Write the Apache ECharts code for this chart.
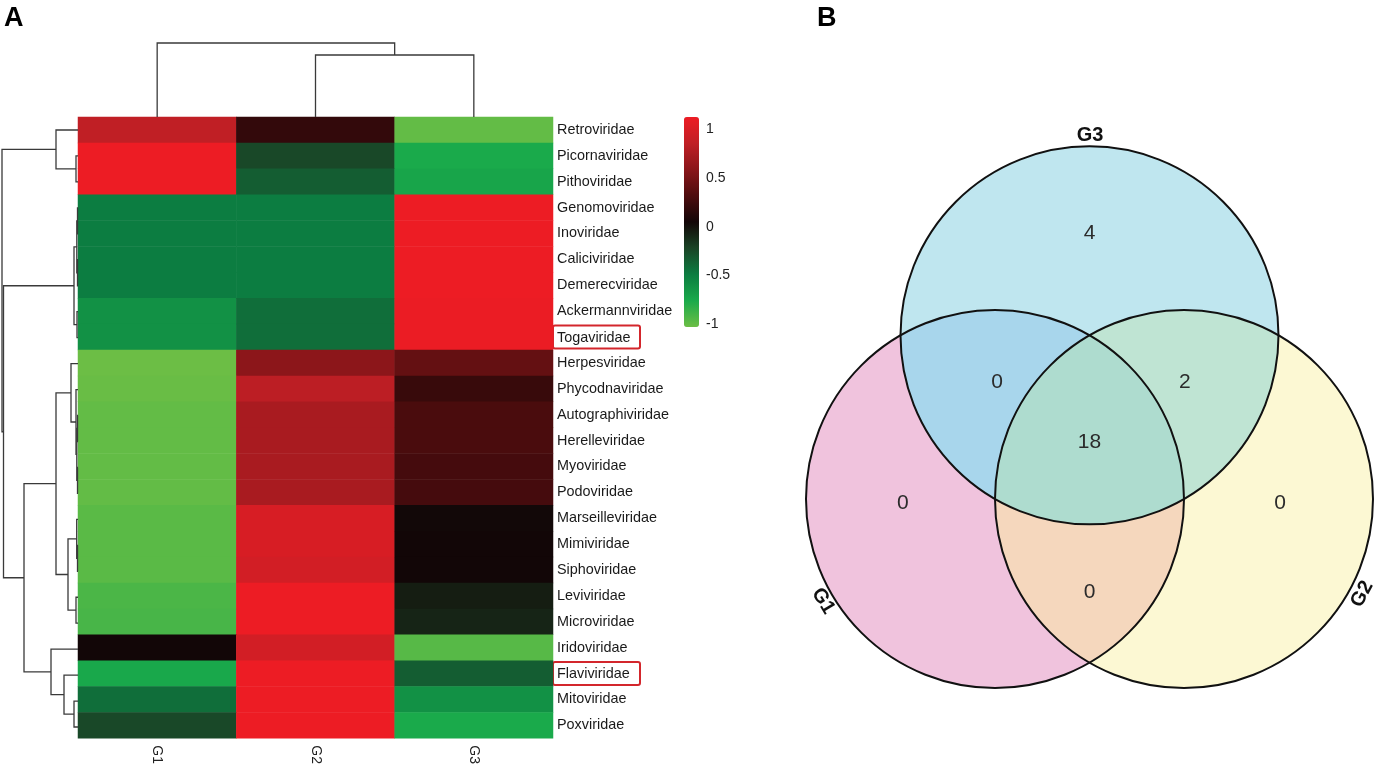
<!DOCTYPE html>
<html><head><meta charset="utf-8">
<script src="https://cdn.jsdelivr.net/npm/echarts@6/dist/echarts.min.js"></script>
<style>html,body{margin:0;padding:0;background:#fff}#c{width:1375px;height:767px}</style>
</head><body><div id="c"></div>
<script>
// ---------------- data ----------------
const families = ['Retroviridae','Picornaviridae','Pithoviridae','Genomoviridae','Inoviridae','Caliciviridae','Demerecviridae','Ackermannviridae','Togaviridae','Herpesviridae','Phycodnaviridae','Autographiviridae','Herelleviridae','Myoviridae','Podoviridae','Marseilleviridae','Mimiviridae','Siphoviridae','Leviviridae','Microviridae','Iridoviridae','Flaviviridae','Mitoviridae','Poxviridae'];
const groups = ['G1','G2','G3'];
const g1Values = [0.86, 1.13, 1.13, -0.49, -0.49, -0.49, -0.49, -0.61, -0.61, -1.03, -1.02, -1.0, -1.0, -1.0, -1.0, -0.97, -0.97, -0.97, -0.92, -0.91, 0.05, -0.75, -0.42, -0.24];
const g2Values = [0.2, -0.24, -0.34, -0.49, -0.49, -0.49, -0.49, -0.42, -0.42, 0.6, 0.84, 0.745, 0.745, 0.745, 0.745, 1.0, 1.0, 0.97, 1.13, 1.13, 0.97, 1.13, 1.13, 1.13];
const g3Values = [-1.0, -0.76, -0.73, 1.13, 1.13, 1.13, 1.13, 1.12, 1.12, 0.42, 0.22, 0.30, 0.30, 0.28, 0.28, 0.04, 0.05, 0.05, -0.05, -0.08, -0.96, -0.34, -0.61, -0.76];
const colorbarTicks = [-1, -0.5, 0, 0.5, 1];
const colorMin = -1.03, colorMax = 1.13;
const boxedFamilies = ['Togaviridae', 'Flaviviridae'];
// hierarchical clustering merges: [left, right, height]; numbers = leaf index, 'mK' = merge K
const rowMerges = [
  [1, 2, 2], [0, 'm0', 22],
  [3, 4, 0.5], [5, 6, 0.5], ['m2', 'm3', 1.2], [7, 8, 1], ['m4', 'm5', 4],
  [11, 12, 0.5], [13, 14, 0.5], ['m7', 'm8', 1.2], [10, 'm9', 2], [9, 'm10', 7],
  [16, 17, 0.5], [15, 'm12', 1.3], [18, 19, 2], ['m13', 'm14', 10], ['m11', 'm15', 22],
  [22, 23, 4], [21, 'm17', 14], [20, 'm18', 27], ['m16', 'm19', 54],
  ['m6', 'm20', 74.5], ['m1', 'm21', 76]
];
const colMerges = [[1, 2, 62], [0, 'm0', 74]];
const vennSets = ['G1', 'G2', 'G3'];
const vennRegions = ['G1', 'G2', 'G3', 'G1&G3', 'G2&G3', 'G1&G2', 'G1&G2&G3'];
const vennCounts = [0, 0, 4, 0, 2, 0, 18];

// ---------------- layout / style ----------------
const FONT = 'Liberation Sans, Arial, Helvetica, sans-serif';
const palette = ['#6cbe45', '#1aaa4b', '#0c7d41', '#1a4426', '#120607', '#4e0c0e', '#8a161a', '#c01f25', '#ed1c24'];
const vennCenters = [[-0.5, 0], [0.5, 0], [0, 0.866]];
const vennRadius = 1;
const vennColors = ['#f0c3dd', '#fcf8d3', '#bfe6ef', '#a8d6ec', '#bfe4d3', '#f5d7bd', '#aedccf'];
const vennLabelPos = [[-0.987, -0.021], [1.008, -0.021], [0, 1.405], [-0.489, 0.619], [0.505, 0.619], [0, -0.492], [0, 0.302]];
const vennSetLabelPos = [[-1.41, -0.54, -59], [1.442, -0.503, 62], [0.003, 1.926, 0]];

// ---------------- build ----------------
function layoutTree(merges) {
  const nodes = [], segs = [];
  const get = k => typeof k === 'number' ? { pos: k, h: 0 } : nodes[+k.slice(1)];
  merges.forEach(([a, b, h]) => {
    const A = get(a), B = get(b);
    nodes.push({ pos: (A.pos + B.pos) / 2, h });
    segs.push([A.pos, A.h, B.pos, B.h, h]);
  });
  return segs;
}
const rowSegs = layoutTree(rowMerges);
const colSegs = layoutTree(colMerges);
const groupValues = [g1Values, g2Values, g3Values];
const heatData = [];
families.forEach((f, r) => groupValues.forEach((vals, c) => heatData.push([c, r, vals[r]])));

function intersections(a, b, r) {
  const dx = b[0] - a[0], dy = b[1] - a[1], d = Math.hypot(dx, dy);
  const h = Math.sqrt(Math.max(r * r - d * d / 4, 0));
  const mx = (a[0] + b[0]) / 2, my = (a[1] + b[1]) / 2;
  const px = -dy / d, py = dx / d;
  return [[mx + px * h, my + py * h], [mx - px * h, my - py * h]];
}
const P = p => p[0].toFixed(2) + ' ' + p[1].toFixed(2);
function regionPath(name, cen, r) {
  const idx = name.split('&').map(s => vennSets.indexOf(s));
  if (idx.length === 2) {
    const [p, q] = intersections(cen[idx[0]], cen[idx[1]], r);
    return `M${P(p)} A${r} ${r} 0 0 1 ${P(q)} A${r} ${r} 0 0 1 ${P(p)} Z`;
  }
  const inside = (pts, k) => {
    const c = cen[k];
    return Math.hypot(pts[0][0] - c[0], pts[0][1] - c[1]) < Math.hypot(pts[1][0] - c[0], pts[1][1] - c[1]) ? pts[0] : pts[1];
  };
  let v12 = inside(intersections(cen[0], cen[1], r), 2);
  let v13 = inside(intersections(cen[0], cen[2], r), 1);
  let v23 = inside(intersections(cen[1], cen[2], r), 0);
  const cross = (v13[0] - v12[0]) * (v23[1] - v12[1]) - (v13[1] - v12[1]) * (v23[0] - v12[0]);
  if (cross < 0) { const t = v13; v13 = v23; v23 = t; }
  return `M${P(v12)} A${r} ${r} 0 0 1 ${P(v13)} A${r} ${r} 0 0 1 ${P(v23)} A${r} ${r} 0 0 1 ${P(v12)} Z`;
}
const vennData = vennRegions.map((n, i) => ({ name: n, value: [vennLabelPos[i][0], vennLabelPos[i][1], vennCounts[i]] }));
const vennSetData = vennSets.map((n, i) => ({ name: n, value: vennSetLabelPos[i] }));

const chart = echarts.init(document.getElementById('c'), null, { renderer: 'canvas' });
const option = {
  animation: false,
  backgroundColor: '#fff',
  textStyle: { fontFamily: FONT },
  title: [
    { text: 'A', left: 4, top: 5, padding: 0, textStyle: { fontSize: 27, fontWeight: 'bold', color: '#000', fontFamily: FONT } },
    { text: 'B', left: 817, top: 5, padding: 0, textStyle: { fontSize: 27, fontWeight: 'bold', color: '#000', fontFamily: FONT } }
  ],
  grid: [
    { left: 78, top: 117, width: 475, height: 623 },
    { left: 2, top: 117, width: 76, height: 623 },
    { left: 78, top: 43, width: 475, height: 74 },
    { left: 684, top: 117, width: 15, height: 210 },
    { left: 806, top: 121, width: 567, height: 567 }
  ],
  xAxis: [
    { gridIndex: 0, type: 'category', data: groups, position: 'bottom', axisLine: { show: false }, axisTick: { show: false },
      axisLabel: { rotate: -90, margin: 7, fontSize: 14, color: '#222', fontFamily: FONT } },
    { gridIndex: 1, type: 'value', min: 0, max: 76, inverse: true, show: false },
    { gridIndex: 2, type: 'value', min: -0.5, max: 2.5, show: false },
    { gridIndex: 3, type: 'value', min: 0, max: 1, show: false },
    { gridIndex: 4, type: 'value', min: -1.5, max: 1.5, show: false }
  ],
  yAxis: [
    { gridIndex: 0, type: 'category', data: families, inverse: true, position: 'right', axisLine: { show: false }, axisTick: { show: false },
      axisLabel: { margin: 0, fontSize: 14.4, color: '#1a1a1a', fontFamily: FONT,
        formatter: v => boxedFamilies.includes(v) ? '{box|' + v + '}' : '{n|' + v + '}',
        rich: {
          n: { fontSize: 14.4, color: '#1a1a1a', fontFamily: FONT, padding: [0, 0, 0, 4] },
          box: { fontSize: 14.4, color: '#1a1a1a', fontFamily: FONT, borderColor: '#d3262c', borderWidth: 2, borderRadius: 2, padding: [5, 4, 4, 4], width: 79 }
        } } },
    { gridIndex: 1, type: 'value', min: -0.5, max: 23.5, inverse: true, show: false },
    { gridIndex: 2, type: 'value', min: 0, max: 74, show: false },
    { gridIndex: 3, type: 'value', min: colorMin, max: colorMax, position: 'right', axisLine: { show: false }, axisTick: { show: false }, splitLine: { show: false },
      axisLabel: { customValues: colorbarTicks, margin: 7, fontSize: 14, color: '#222', fontFamily: FONT } },
    { gridIndex: 4, type: 'value', min: -1, max: 2, show: false }
  ],
  visualMap: {
    type: 'continuous', min: colorMin, max: colorMax, seriesIndex: 0, dimension: 2, calculable: false, hoverLink: false,
    orient: 'vertical', left: 684, top: 117, itemWidth: 15, itemHeight: 210, padding: 0, text: null,
    inRange: { color: palette }
  },
  series: [
    { type: 'heatmap', xAxisIndex: 0, yAxisIndex: 0, data: heatData, itemStyle: { borderWidth: 0 }, emphasis: { disabled: true }, silent: true },
    { type: 'custom', xAxisIndex: 1, yAxisIndex: 1, silent: true, clip: false, data: rowSegs, encode: { x: [1, 3, 4], y: [0, 2] },
      renderItem: (params, api) => {
        const pL = api.value(0), hL = api.value(1), pR = api.value(2), hR = api.value(3), H = api.value(4);
        return { type: 'polyline', shape: { points: [api.coord([hL, pL]), api.coord([H, pL]), api.coord([H, pR]), api.coord([hR, pR])] },
          style: { stroke: '#3a3a3a', lineWidth: 1.3, fill: null } };
      } },
    { type: 'custom', xAxisIndex: 2, yAxisIndex: 2, silent: true, clip: false, data: colSegs, encode: { x: [0, 2], y: [1, 3, 4] },
      renderItem: (params, api) => {
        const pL = api.value(0), hL = api.value(1), pR = api.value(2), hR = api.value(3), H = api.value(4);
        return { type: 'polyline', shape: { points: [api.coord([pL, hL]), api.coord([pL, H]), api.coord([pR, H]), api.coord([pR, hR])] },
          style: { stroke: '#3a3a3a', lineWidth: 1.3, fill: null } };
      } },
    // venn regions
    { type: 'custom', xAxisIndex: 4, yAxisIndex: 4, silent: true, clip: false, z: 2, data: vennData,
      renderItem: (params, api) => {
        const i = params.dataIndex;
        const cen = vennCenters.map(c => api.coord(c));
        const r = api.size([vennRadius, 0])[0];
        const name = vennRegions[i];
        if (name.indexOf('&') < 0) {
          const c = cen[vennSets.indexOf(name)];
          return { type: 'circle', shape: { cx: c[0], cy: c[1], r }, style: { fill: vennColors[i] } };
        }
        return { type: 'path', shape: { pathData: regionPath(name, cen, r) }, style: { fill: vennColors[i] } };
      } },
    // venn outlines
    { type: 'custom', xAxisIndex: 4, yAxisIndex: 4, silent: true, clip: false, z: 3, data: vennCenters,
      renderItem: (params, api) => {
        const c = api.coord([api.value(0), api.value(1)]);
        const r = api.size([vennRadius, 0])[0];
        return { type: 'circle', shape: { cx: c[0], cy: c[1], r }, style: { fill: null, stroke: '#111', lineWidth: 2 } };
      } },
    // venn counts
    { type: 'custom', xAxisIndex: 4, yAxisIndex: 4, silent: true, clip: false, z: 4, data: vennData,
      renderItem: (params, api) => {
        const p = api.coord([api.value(0), api.value(1)]);
        return { type: 'text', x: p[0], y: p[1], style: { text: String(api.value(2)), font: '21px ' + FONT, fill: '#2b2b2b', align: 'center', verticalAlign: 'middle' } };
      } },
    // venn set labels
    { type: 'custom', xAxisIndex: 4, yAxisIndex: 4, silent: true, clip: false, z: 4, data: vennSetData,
      renderItem: (params, api) => {
        const p = api.coord([api.value(0), api.value(1)]);
        return { type: 'text', x: p[0], y: p[1], rotation: api.value(2) * Math.PI / 180,
          style: { text: vennSets[params.dataIndex], font: 'bold 20px ' + FONT, fill: '#111', align: 'center', verticalAlign: 'middle' } };
      } }
  ]
};
chart.setOption(option);
</script>
</body></html>
